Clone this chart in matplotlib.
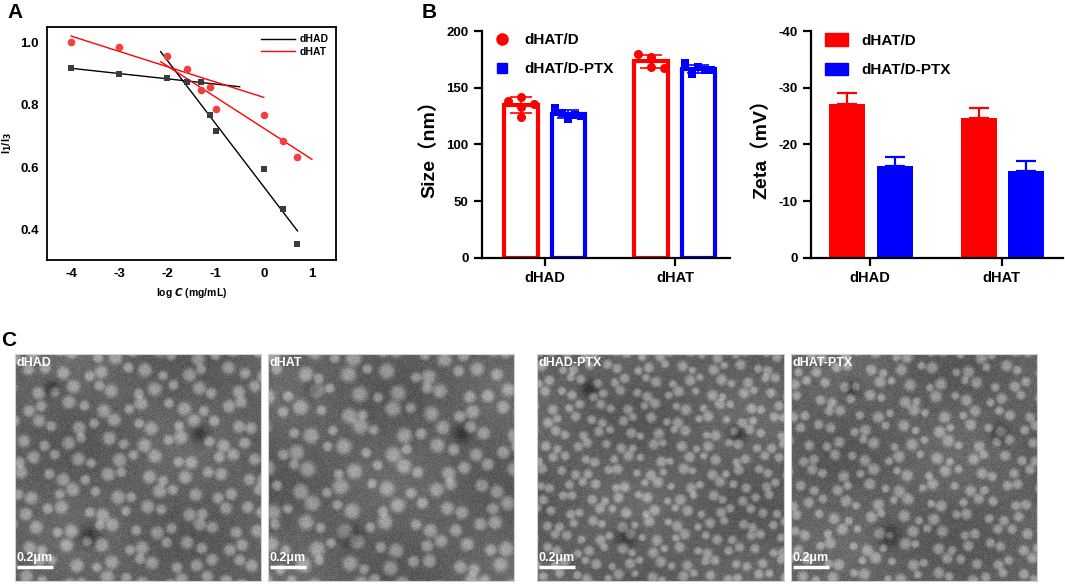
import numpy as np
import matplotlib
matplotlib.use("Agg")
import matplotlib.pyplot as plt
from matplotlib.lines import Line2D
from matplotlib.patches import Patch

plt.rcParams['font.family'] = ['Liberation Sans', 'Noto Sans CJK SC', 'DejaVu Sans']
plt.rcParams['font.weight'] = 'bold'
plt.rcParams['axes.unicode_minus'] = False

W, H = 1065, 584

# ---------------- data ----------------
# Panel A: pyrene I1/I3 vs log C
logc = [-4, -3, -2, -1.6, -1.3, -1.12, -1.0, 0, 0.4, 0.7]
i13_dHAD = [0.917, 0.899, 0.887, 0.874, 0.872, 0.767, 0.716, 0.594, 0.466, 0.355]
i13_dHAT = [1.000, 0.986, 0.957, 0.915, 0.848, 0.858, 0.787, 0.769, 0.686, 0.633]
fit_dHAD_1_x, fit_dHAD_1_y = [-4, -0.5], [0.917, 0.858]
fit_dHAD_2_x, fit_dHAD_2_y = [-2.14, 0.7], [0.970, 0.397]
fit_dHAT_1_x, fit_dHAT_1_y = [-4, 0], [1.020, 0.824]
fit_dHAT_2_x, fit_dHAT_2_y = [-2.14, 1.0], [0.938, 0.626]

# Panel B: size and zeta
groups = ['dHAD', 'dHAT']
size_D = [[138, 142, 133, 136, 124], [180, 175, 177, 167, 168]]
size_PTX = [[132, 128, 122, 126, 125], [172, 162, 168, 166, 166]]
zeta_D = [-27.1, -24.7]
zeta_D_err = [1.9, 1.8]
zeta_PTX = [-16.2, -15.35]
zeta_PTX_err = [1.5, 1.7]
series_names = ['dHAT/D', 'dHAT/D-PTX']

# Panel C: TEM image labels
tem_labels = ['dHAD', 'dHAT', 'dHAD-PTX', 'dHAT-PTX']
scale_label = '0.2μm'

RED = '#FF0000'
BLUE = '#0000FF'


def px(l, t, r, b):
    return [l / W, 1 - b / H, (r - l) / W, (b - t) / H]


fig = plt.figure(figsize=(W / 100, H / 100), dpi=100)

# ---------------- Panel A ----------------
axA = fig.add_axes(px(47, 27, 336, 260))
axA.plot(fit_dHAD_1_x, fit_dHAD_1_y, color='black', lw=1.0)
axA.plot(fit_dHAD_2_x, fit_dHAD_2_y, color='black', lw=1.0)
axA.plot(fit_dHAT_1_x, fit_dHAT_1_y, color=RED, lw=1.0)
axA.plot(fit_dHAT_2_x, fit_dHAT_2_y, color=RED, lw=1.0)
axA.scatter(logc, i13_dHAD, marker='s', s=22, color='#3c3c3c', zorder=3, linewidths=0)
axA.scatter(logc, i13_dHAT, marker='o', s=30, color='#F04040', zorder=3, linewidths=0)
axA.set_xlim(-4.5, 1.5)
axA.set_ylim(0.304, 1.049)
axA.set_xticks([-4, -3, -2, -1, 0, 1])
axA.set_yticks([0.4, 0.6, 0.8, 1.0])
axA.set_yticklabels(['0.4', '0.6', '0.8', '1.0'])
axA.tick_params(length=0, labelsize=9.5, pad=6)
for lab in axA.get_xticklabels() + axA.get_yticklabels():
    lab.set_fontweight('bold')
for sp in axA.spines.values():
    sp.set_linewidth(1.3)
axA.set_xlabel(r'log $\boldsymbol{C}$ (mg/mL)', fontsize=7.5, fontweight='bold', labelpad=4)
axA.set_ylabel(r'I$_\mathbf{1}$/I$_\mathbf{3}$', fontsize=8, fontweight='bold')
axA.yaxis.set_label_coords(-0.115, 0.5)
legA = axA.legend(handles=[Line2D([], [], color='black', lw=1.0, label='dHAD'),
                           Line2D([], [], color=RED, lw=1.0, label='dHAT')],
                  loc='upper right', frameon=False, fontsize=7.5, handlelength=3.2,
                  borderaxespad=0.3, labelspacing=0.25, handletextpad=0.5)
for t in legA.get_texts():
    t.set_fontweight('bold')

# ---------------- Panel B: size ----------------
xs = np.arange(len(groups))
off_D, off_P = -0.185, 0.18
bw = 0.26
axS = fig.add_axes(px(481.7, 31, 730, 257.7))
mD = [np.mean(v) for v in size_D]
mP = [np.mean(v) for v in size_PTX]
sD = [np.std(v, ddof=1) for v in size_D]
sP = [np.std(v, ddof=1) for v in size_PTX]
axS.bar(xs + off_D, mD, width=bw, facecolor='white', edgecolor=RED, linewidth=3, zorder=2)
axS.bar(xs + off_P, mP, width=bw, facecolor='white', edgecolor=BLUE, linewidth=3, zorder=2)
spread_D = np.array([-0.1, 0.0, 0.0, 0.1, 0.0])
spread_P = np.array([-0.1, -0.05, 0.0, 0.05, 0.1])
for i in range(len(groups)):
    axS.scatter(xs[i] + off_D + spread_D, size_D[i], marker='o', s=42, color=RED, zorder=4,
                clip_on=False, linewidths=0)
    axS.scatter(xs[i] + off_P + spread_P, size_PTX[i], marker='s', s=34, color=BLUE, zorder=4,
                clip_on=False, linewidths=0)
    axS.errorbar(xs[i] + off_D, mD[i], yerr=sD[i], color=RED, lw=1.2, capsize=8, capthick=1.2, zorder=5)
    axS.errorbar(xs[i] + off_P, mP[i], yerr=sP[i], color=BLUE, lw=1.2, capsize=8, capthick=1.2, zorder=5)
axS.set_xlim(-0.487, 1.423)
axS.set_ylim(0, 200)
axS.set_yticks([0, 50, 100, 150, 200])
axS.set_xticks(xs)
axS.set_xticklabels(groups)
axS.spines['top'].set_visible(False)
axS.spines['right'].set_visible(False)
for sp in ('left', 'bottom'):
    axS.spines[sp].set_linewidth(1.6)
axS.tick_params(axis='y', length=6, width=1.6, labelsize=9.5)
axS.tick_params(axis='x', length=6, width=1.6, labelsize=10.5)
for lab in axS.get_xticklabels() + axS.get_yticklabels():
    lab.set_fontweight('bold')
axS.set_ylabel('Size（nm）', fontsize=14, fontweight='bold', labelpad=6)
legS = axS.legend(handles=[Line2D([], [], marker='o', ls='', color=RED, markersize=8, label=series_names[0]),
                           Line2D([], [], marker='s', ls='', color=BLUE, markersize=7, label=series_names[1])],
                  loc='upper left', bbox_to_anchor=(-0.005, 1.05), frameon=False, fontsize=11,
                  handlelength=1.0, handletextpad=1.0, labelspacing=0.95)
for t in legS.get_texts():
    t.set_fontweight('bold')

# ---------------- Panel B: zeta ----------------
axZ = fig.add_axes(px(811, 31, 1063, 257.7))
zoD, zoP = -0.175, 0.187
axZ.bar(xs + zoD, zeta_D, width=0.273, color=RED, zorder=2,
        yerr=[zeta_D_err, [0, 0]], error_kw=dict(ecolor=RED, lw=1.6, capsize=7, capthick=1.6, zorder=1))
axZ.bar(xs + zoP, zeta_PTX, width=0.273, color=BLUE, zorder=2,
        yerr=[zeta_PTX_err, [0, 0]], error_kw=dict(ecolor=BLUE, lw=1.6, capsize=7, capthick=1.6, zorder=1))
axZ.set_xlim(-0.448, 1.465)
axZ.set_ylim(0, -40)
axZ.set_yticks([0, -10, -20, -30, -40])
axZ.set_xticks(xs)
axZ.set_xticklabels(groups)
axZ.spines['top'].set_visible(False)
axZ.spines['right'].set_visible(False)
for sp in ('left', 'bottom'):
    axZ.spines[sp].set_linewidth(1.6)
axZ.tick_params(axis='y', length=6, width=1.6, labelsize=9.5)
axZ.tick_params(axis='x', length=6, width=1.6, labelsize=10.5)
for lab in axZ.get_xticklabels() + axZ.get_yticklabels():
    lab.set_fontweight('bold')
axZ.set_ylabel('Zeta（mV）', fontsize=14, fontweight='bold', labelpad=6)
legZ = axZ.legend(handles=[Patch(color=RED, label=series_names[0]),
                           Patch(color=BLUE, label=series_names[1])],
                  loc='upper left', bbox_to_anchor=(0.0, 1.05), frameon=False, fontsize=11,
                  handlelength=1.5, handleheight=0.85, handletextpad=0.9, labelspacing=1.0)
for t in legZ.get_texts():
    t.set_fontweight('bold')

# ---------------- Panel C: TEM micrographs (procedural texture) ----------------
def tem_texture(h, w, spacing, rmin, rmax, phase):
    yy, xx = np.mgrid[0:h, 0:w].astype(float)
    img = 0.38 + 0.04 * np.sin(xx / 37.0 + phase) * np.cos(yy / 29.0 - phase)
    grain = np.sin(xx * 12.9898 + yy * 78.233 + phase * 3.1) * 43758.5453
    grain = grain - np.floor(grain)
    img += (grain - 0.5) * 0.10
    rows = int(h / (spacing * 0.87)) + 2
    cols = int(w / spacing) + 2
    for r in range(rows):
        for c in range(cols):
            k = r * 31 + c * 17
            cx = c * spacing + (spacing / 2 if r % 2 else 0) + 0.22 * spacing * np.sin(k * 1.7 + phase)
            cy = r * spacing * 0.87 + 0.22 * spacing * np.cos(k * 2.3 + phase)
            rad = rmin + (rmax - rmin) * (0.5 + 0.5 * np.sin(k * 0.91 + phase * 2))
            d2 = (xx - cx) ** 2 + (yy - cy) ** 2
            img += 0.24 * np.exp(-(d2 / (rad ** 2)) ** 2)
    for (fx, fy, fr) in [(0.3, 0.8, 11), (0.75, 0.35, 9), (0.15, 0.15, 8)]:
        d2 = (xx - fx * w - phase * 7) ** 2 + (yy - fy * h) ** 2
        img -= 0.18 * np.exp(-d2 / fr ** 2)
    return np.clip(img, 0, 1)


tem_boxes = [(15, 354, 261, 581), (268, 354, 514, 581), (537, 354, 784, 581), (791, 354, 1037, 581)]
tem_params = [(20, 5.0, 7.0, 0.0), (22, 5.0, 8.0, 1.3), (15, 3.8, 5.5, 2.1), (17, 4.0, 6.0, 3.4)]
for (l, t, r, b), lab, (sp, r0, r1, ph) in zip(tem_boxes, tem_labels, tem_params):
    ax = fig.add_axes(px(l, t, r, b))
    img = tem_texture(int(b - t), int(r - l), sp, r0, r1, ph)
    ax.imshow(img, cmap='gray', vmin=0, vmax=1, aspect='auto', extent=(0, 1, 0, 1),
              interpolation='bilinear')
    ax.set_xlim(0, 1)
    ax.set_ylim(0, 1)
    ax.set_xticks([])
    ax.set_yticks([])
    for s in ax.spines.values():
        s.set_edgecolor('#d0d0d0')
        s.set_linewidth(0.8)
    ax.text(0.005, 0.985, lab, color='white', fontsize=9, fontweight='bold', va='top', ha='left',
            transform=ax.transAxes)
    ax.plot([0.01, 0.155], [0.06, 0.06], color='white', lw=2.5, transform=ax.transAxes, solid_capstyle='butt')
    ax.text(0.005, 0.075, scale_label, color='white', fontsize=9, fontweight='bold', va='bottom', ha='left',
            transform=ax.transAxes)

# ---------------- panel letters ----------------
fig.text(7 / W, 1 - 13 / H, 'A', fontsize=15, fontweight='bold', va='center', ha='left')
fig.text(422 / W, 1 - 12 / H, 'B', fontsize=15, fontweight='bold', va='center', ha='left')
fig.text(1 / W, 1 - 340 / H, 'C', fontsize=15, fontweight='bold', va='center', ha='left')

fig.savefig('out.png', dpi=100)
